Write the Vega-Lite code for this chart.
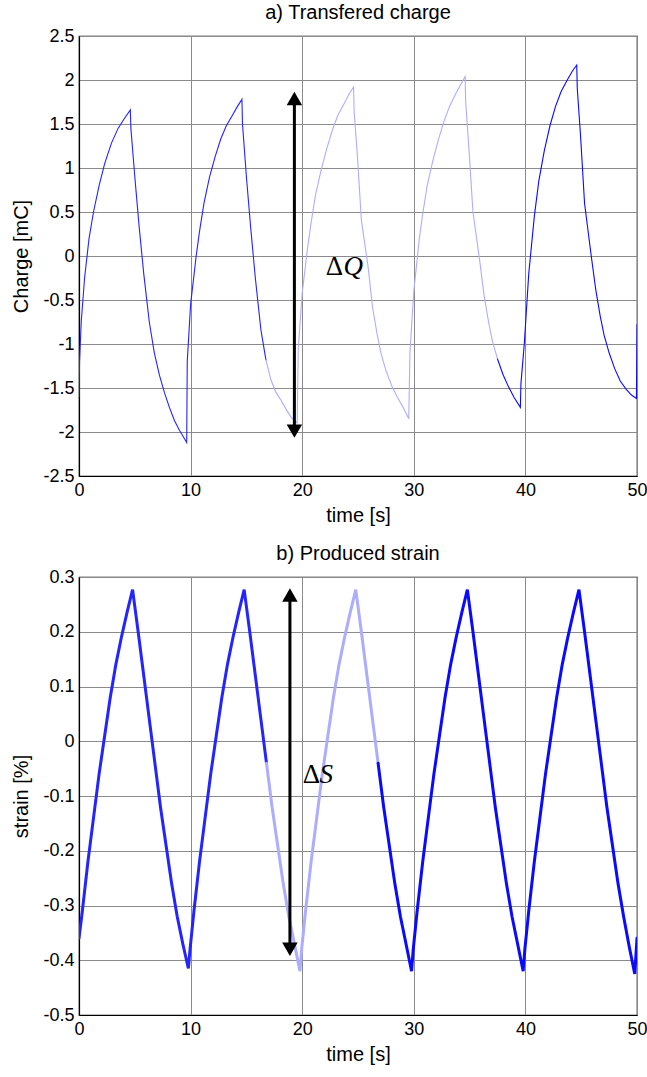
{
  "$schema": "https://vega.github.io/schema/vega-lite/v6.json",
  "padding": {"left": 11, "top": 2, "right": 8, "bottom": 4},
  "spacing": 17,
  "config": {
    "font": "Liberation Sans",
    "view": {"stroke": "black", "strokeWidth": 1.2},
    "axis": {
      "labelFont": "Liberation Sans", "labelFontSize": 18, "labelColor": "black", "labelPadding": 5,
      "titleFont": "Liberation Sans", "titleFontSize": 20, "titleFontWeight": "normal", "titleColor": "black",
      "gridColor": "#8a8a8a", "gridWidth": 1, "gridOpacity": 1,
      "domainColor": "black", "domainWidth": 1.2, "tickSize": 0, "labelFlush": false, "labelOverlap": false
    },
    "axisX": {"titlePadding": 6},
    "axisY": {"titlePadding": 11},
    "title": {"font": "Liberation Sans", "fontSize": 20, "fontWeight": "normal", "color": "black", "offset": 4}
  },
  "datasets": {
    "charge": [
      {"t": 0, "v": -1.6, "part": "main"}, {"t": 0.05, "v": -1.2, "part": "main"}, {"t": 0.2, "v": -0.75, "part": "main"},
      {"t": 0.5, "v": -0.25, "part": "main"}, {"t": 0.9, "v": 0.2, "part": "main"}, {"t": 1.3, "v": 0.5, "part": "main"},
      {"t": 1.8, "v": 0.8, "part": "main"}, {"t": 2.3, "v": 1.05, "part": "main"}, {"t": 2.9, "v": 1.28, "part": "main"},
      {"t": 3.5, "v": 1.45, "part": "main"}, {"t": 4.05, "v": 1.56, "part": "main"}, {"t": 4.6, "v": 1.66, "part": "main"},
      {"t": 4.65, "v": 1.45, "part": "main"}, {"t": 5.0, "v": 0.9, "part": "main"}, {"t": 5.4, "v": 0.32, "part": "main"},
      {"t": 5.8, "v": -0.2, "part": "main"}, {"t": 6.3, "v": -0.75, "part": "main"}, {"t": 6.75, "v": -1.1, "part": "main"},
      {"t": 7.2, "v": -1.35, "part": "main"}, {"t": 7.65, "v": -1.55, "part": "main"}, {"t": 8.1, "v": -1.72, "part": "main"},
      {"t": 8.55, "v": -1.87, "part": "main"}, {"t": 9.0, "v": -1.98, "part": "main"}, {"t": 9.65, "v": -2.12, "part": "main"},
      {"t": 9.7, "v": -1.2, "part": "main"}, {"t": 10.0, "v": -0.55, "part": "main"}, {"t": 10.5, "v": 0.0, "part": "main"},
      {"t": 10.8, "v": 0.28, "part": "main"}, {"t": 11.2, "v": 0.6, "part": "main"}, {"t": 11.7, "v": 0.9, "part": "main"},
      {"t": 12.2, "v": 1.13, "part": "main"}, {"t": 12.7, "v": 1.33, "part": "main"}, {"t": 13.2, "v": 1.48, "part": "main"},
      {"t": 13.75, "v": 1.6, "part": "main"}, {"t": 14.2, "v": 1.7, "part": "main"}, {"t": 14.6, "v": 1.78, "part": "main"},
      {"t": 14.65, "v": 1.5, "part": "main"}, {"t": 15.0, "v": 0.9, "part": "main"}, {"t": 15.4, "v": 0.3, "part": "main"},
      {"t": 15.8, "v": -0.25, "part": "main"}, {"t": 16.3, "v": -0.84, "part": "main"}, {"t": 16.75, "v": -1.18, "part": "main"},
      {"t": 16.75, "v": -1.18, "part": "faint"}, {"t": 17.2, "v": -1.41, "part": "faint"}, {"t": 17.65, "v": -1.55, "part": "faint"},
      {"t": 18.1, "v": -1.64, "part": "faint"}, {"t": 18.55, "v": -1.74, "part": "faint"}, {"t": 19.0, "v": -1.83, "part": "faint"},
      {"t": 19.55, "v": -1.9, "part": "faint"}, {"t": 19.65, "v": -1.05, "part": "faint"}, {"t": 20.0, "v": -0.42, "part": "faint"},
      {"t": 20.5, "v": 0.11, "part": "faint"}, {"t": 20.8, "v": 0.38, "part": "faint"}, {"t": 21.2, "v": 0.7, "part": "faint"},
      {"t": 21.7, "v": 0.98, "part": "faint"}, {"t": 22.2, "v": 1.22, "part": "faint"}, {"t": 22.7, "v": 1.43, "part": "faint"},
      {"t": 23.2, "v": 1.6, "part": "faint"}, {"t": 23.75, "v": 1.73, "part": "faint"}, {"t": 24.2, "v": 1.84, "part": "faint"},
      {"t": 24.6, "v": 1.92, "part": "faint"}, {"t": 24.65, "v": 1.65, "part": "faint"}, {"t": 24.95, "v": 1.13, "part": "faint"},
      {"t": 25.3, "v": 0.41, "part": "faint"}, {"t": 25.9, "v": -0.12, "part": "faint"}, {"t": 26.3, "v": -0.58, "part": "faint"},
      {"t": 26.7, "v": -0.88, "part": "faint"}, {"t": 27.05, "v": -1.1, "part": "faint"}, {"t": 27.5, "v": -1.3, "part": "faint"},
      {"t": 28.0, "v": -1.47, "part": "faint"}, {"t": 28.5, "v": -1.6, "part": "faint"}, {"t": 29.0, "v": -1.71, "part": "faint"},
      {"t": 29.55, "v": -1.85, "part": "faint"}, {"t": 29.65, "v": -1.1, "part": "faint"}, {"t": 30.0, "v": -0.4, "part": "faint"},
      {"t": 30.5, "v": 0.2, "part": "faint"}, {"t": 30.8, "v": 0.48, "part": "faint"}, {"t": 31.2, "v": 0.8, "part": "faint"},
      {"t": 31.7, "v": 1.08, "part": "faint"}, {"t": 32.2, "v": 1.32, "part": "faint"}, {"t": 32.7, "v": 1.53, "part": "faint"},
      {"t": 33.2, "v": 1.7, "part": "faint"}, {"t": 33.75, "v": 1.84, "part": "faint"}, {"t": 34.2, "v": 1.95, "part": "faint"},
      {"t": 34.6, "v": 2.04, "part": "faint"}, {"t": 34.65, "v": 1.75, "part": "faint"}, {"t": 34.95, "v": 1.2, "part": "faint"},
      {"t": 35.3, "v": 0.5, "part": "faint"}, {"t": 35.9, "v": -0.05, "part": "faint"}, {"t": 36.3, "v": -0.45, "part": "faint"},
      {"t": 36.7, "v": -0.75, "part": "faint"}, {"t": 37.05, "v": -0.97, "part": "faint"}, {"t": 37.5, "v": -1.17, "part": "faint"},
      {"t": 37.5, "v": -1.17, "part": "end"}, {"t": 38.0, "v": -1.35, "part": "end"}, {"t": 38.5, "v": -1.49, "part": "end"},
      {"t": 39.0, "v": -1.61, "part": "end"}, {"t": 39.55, "v": -1.72, "part": "end"}, {"t": 39.6, "v": -1.45, "part": "end"},
      {"t": 39.9, "v": -1.0, "part": "end"}, {"t": 40.3, "v": -0.2, "part": "end"}, {"t": 40.8, "v": 0.45, "part": "end"},
      {"t": 41.2, "v": 0.85, "part": "end"}, {"t": 41.7, "v": 1.2, "part": "end"}, {"t": 42.2, "v": 1.48, "part": "end"},
      {"t": 42.7, "v": 1.7, "part": "end"}, {"t": 43.2, "v": 1.87, "part": "end"}, {"t": 43.75, "v": 2.0, "part": "end"},
      {"t": 44.2, "v": 2.1, "part": "end"}, {"t": 44.6, "v": 2.17, "part": "end"}, {"t": 44.65, "v": 1.9, "part": "end"},
      {"t": 44.95, "v": 1.35, "part": "end"}, {"t": 45.3, "v": 0.6, "part": "end"}, {"t": 45.9, "v": 0.0, "part": "end"},
      {"t": 46.3, "v": -0.38, "part": "end"}, {"t": 46.7, "v": -0.68, "part": "end"}, {"t": 47.05, "v": -0.9, "part": "end"},
      {"t": 47.5, "v": -1.1, "part": "end"}, {"t": 48.0, "v": -1.28, "part": "end"}, {"t": 48.5, "v": -1.42, "part": "end"},
      {"t": 49.0, "v": -1.51, "part": "end"}, {"t": 49.5, "v": -1.58, "part": "end"}, {"t": 49.95, "v": -1.62, "part": "end"},
      {"t": 50.0, "v": -0.78, "part": "end"}
    ],
    "strain": [
      {"t": 0, "v": -0.36, "part": "main"}, {"t": 0.3, "v": -0.31, "part": "main"}, {"t": 0.8, "v": -0.22, "part": "main"},
      {"t": 1.3, "v": -0.14, "part": "main"}, {"t": 1.8, "v": -0.06, "part": "main"}, {"t": 2.3, "v": 0.01, "part": "main"},
      {"t": 2.8, "v": 0.08, "part": "main"}, {"t": 3.3, "v": 0.14, "part": "main"}, {"t": 3.8, "v": 0.19, "part": "main"},
      {"t": 4.3, "v": 0.235, "part": "main"}, {"t": 4.8, "v": 0.277, "part": "main"}, {"t": 5.3, "v": 0.2, "part": "main"},
      {"t": 5.8, "v": 0.12, "part": "main"}, {"t": 6.3, "v": 0.04, "part": "main"}, {"t": 6.8, "v": -0.04, "part": "main"},
      {"t": 7.3, "v": -0.12, "part": "main"}, {"t": 7.8, "v": -0.19, "part": "main"}, {"t": 8.3, "v": -0.26, "part": "main"},
      {"t": 8.8, "v": -0.32, "part": "main"}, {"t": 9.3, "v": -0.37, "part": "main"}, {"t": 9.8, "v": -0.415, "part": "main"},
      {"t": 9.95, "v": -0.38, "part": "main"}, {"t": 10.3, "v": -0.31, "part": "main"}, {"t": 10.8, "v": -0.22, "part": "main"},
      {"t": 11.3, "v": -0.14, "part": "main"}, {"t": 11.8, "v": -0.06, "part": "main"}, {"t": 12.3, "v": 0.01, "part": "main"},
      {"t": 12.8, "v": 0.08, "part": "main"}, {"t": 13.3, "v": 0.14, "part": "main"}, {"t": 13.8, "v": 0.19, "part": "main"},
      {"t": 14.3, "v": 0.235, "part": "main"}, {"t": 14.8, "v": 0.277, "part": "main"}, {"t": 15.3, "v": 0.2, "part": "main"},
      {"t": 15.8, "v": 0.12, "part": "main"}, {"t": 16.3, "v": 0.04, "part": "main"}, {"t": 16.8, "v": -0.04, "part": "main"},
      {"t": 16.8, "v": -0.04, "part": "faint"}, {"t": 17.3, "v": -0.12, "part": "faint"}, {"t": 17.8, "v": -0.19, "part": "faint"},
      {"t": 18.3, "v": -0.26, "part": "faint"}, {"t": 18.8, "v": -0.32, "part": "faint"}, {"t": 19.3, "v": -0.37, "part": "faint"},
      {"t": 19.8, "v": -0.42, "part": "faint"}, {"t": 19.95, "v": -0.38, "part": "faint"}, {"t": 20.3, "v": -0.31, "part": "faint"},
      {"t": 20.8, "v": -0.22, "part": "faint"}, {"t": 21.3, "v": -0.14, "part": "faint"}, {"t": 21.8, "v": -0.06, "part": "faint"},
      {"t": 22.3, "v": 0.01, "part": "faint"}, {"t": 22.8, "v": 0.08, "part": "faint"}, {"t": 23.3, "v": 0.14, "part": "faint"},
      {"t": 23.8, "v": 0.19, "part": "faint"}, {"t": 24.3, "v": 0.235, "part": "faint"}, {"t": 24.8, "v": 0.277, "part": "faint"},
      {"t": 25.3, "v": 0.2, "part": "faint"}, {"t": 25.8, "v": 0.12, "part": "faint"}, {"t": 26.3, "v": 0.04, "part": "faint"},
      {"t": 26.8, "v": -0.04, "part": "faint"},
      {"t": 26.8, "v": -0.04, "part": "end"}, {"t": 27.3, "v": -0.12, "part": "end"}, {"t": 27.8, "v": -0.19, "part": "end"},
      {"t": 28.3, "v": -0.26, "part": "end"}, {"t": 28.8, "v": -0.32, "part": "end"}, {"t": 29.3, "v": -0.37, "part": "end"},
      {"t": 29.8, "v": -0.42, "part": "end"}, {"t": 29.95, "v": -0.38, "part": "end"}, {"t": 30.3, "v": -0.31, "part": "end"},
      {"t": 30.8, "v": -0.22, "part": "end"}, {"t": 31.3, "v": -0.14, "part": "end"}, {"t": 31.8, "v": -0.06, "part": "end"},
      {"t": 32.3, "v": 0.01, "part": "end"}, {"t": 32.8, "v": 0.08, "part": "end"}, {"t": 33.3, "v": 0.14, "part": "end"},
      {"t": 33.8, "v": 0.19, "part": "end"}, {"t": 34.3, "v": 0.235, "part": "end"}, {"t": 34.8, "v": 0.277, "part": "end"},
      {"t": 35.3, "v": 0.2, "part": "end"}, {"t": 35.8, "v": 0.12, "part": "end"}, {"t": 36.3, "v": 0.04, "part": "end"},
      {"t": 36.8, "v": -0.04, "part": "end"}, {"t": 37.3, "v": -0.12, "part": "end"}, {"t": 37.8, "v": -0.19, "part": "end"},
      {"t": 38.3, "v": -0.26, "part": "end"}, {"t": 38.8, "v": -0.32, "part": "end"}, {"t": 39.3, "v": -0.37, "part": "end"},
      {"t": 39.8, "v": -0.42, "part": "end"}, {"t": 39.95, "v": -0.38, "part": "end"}, {"t": 40.3, "v": -0.31, "part": "end"},
      {"t": 40.8, "v": -0.22, "part": "end"}, {"t": 41.3, "v": -0.14, "part": "end"}, {"t": 41.8, "v": -0.06, "part": "end"},
      {"t": 42.3, "v": 0.01, "part": "end"}, {"t": 42.8, "v": 0.08, "part": "end"}, {"t": 43.3, "v": 0.14, "part": "end"},
      {"t": 43.8, "v": 0.19, "part": "end"}, {"t": 44.3, "v": 0.235, "part": "end"}, {"t": 44.8, "v": 0.277, "part": "end"},
      {"t": 45.3, "v": 0.2, "part": "end"}, {"t": 45.8, "v": 0.12, "part": "end"}, {"t": 46.3, "v": 0.04, "part": "end"},
      {"t": 46.8, "v": -0.04, "part": "end"}, {"t": 47.3, "v": -0.12, "part": "end"}, {"t": 47.8, "v": -0.19, "part": "end"},
      {"t": 48.3, "v": -0.26, "part": "end"}, {"t": 48.8, "v": -0.32, "part": "end"}, {"t": 49.3, "v": -0.375, "part": "end"},
      {"t": 49.8, "v": -0.425, "part": "end"}, {"t": 50.0, "v": -0.36, "part": "end"}
    ],
    "arrowQ": [{"t": 19.3, "v": -1.99, "v2": 1.79}],
    "headsQ": [{"t": 19.3, "v": 1.79, "dir": "up"}, {"t": 19.3, "v": -1.99, "dir": "down"}],
    "arrowS": [{"t": 18.9, "v": -0.38, "v2": 0.267}],
    "headsS": [{"t": 18.9, "v": 0.267, "dir": "up"}, {"t": 18.9, "v": -0.38, "dir": "down"}],
    "deltaQ": [{"t": 22.1, "v": -0.13, "s": "Δ"}],
    "letterQ": [{"t": 23.7, "v": -0.13, "s": "Q"}],
    "deltaS": [{"t": 20.05, "v": -0.062, "s": "Δ"}],
    "letterS": [{"t": 21.55, "v": -0.062, "s": "S"}]
  },
  "vconcat": [
    {
      "title": "a) Transfered charge",
      "width": 558,
      "height": 440,
      "encoding": {
        "x": {"field": "t", "type": "quantitative", "scale": {"domain": [0, 50], "nice": false, "zero": false},
              "axis": {"values": [0, 10, 20, 30, 40, 50], "title": "time [s]"}},
        "y": {"field": "v", "type": "quantitative", "scale": {"domain": [-2.5, 2.5], "nice": false, "zero": false},
              "axis": {"values": [-2.5, -2, -1.5, -1, -0.5, 0, 0.5, 1, 1.5, 2, 2.5], "labelExpr": "'' + datum.value", "title": "Charge [mC]"}}
      },
      "layer": [
        {
          "data": {"name": "charge"},
          "mark": {"type": "line", "strokeWidth": 1.1, "strokeCap": "round", "clip": true},
          "encoding": {
            "color": {"field": "part", "type": "nominal", "scale": {"domain": ["main", "faint", "end"], "range": ["#2424ff", "#adadff", "#0a0aff"]}, "legend": null}
          }
        },
        {
          "data": {"name": "arrowQ"},
          "mark": {"type": "rule", "color": "black", "strokeWidth": 3},
          "encoding": {"y2": {"field": "v2"}}
        },
        {
          "data": {"name": "headsQ"},
          "mark": {"type": "point", "filled": true, "color": "black", "size": 240, "opacity": 1},
          "encoding": {"shape": {"field": "dir", "type": "nominal", "scale": {"domain": ["up", "down"], "range": ["triangle-up", "triangle-down"]}, "legend": null}}
        },
        {
          "data": {"name": "deltaQ"},
          "mark": {"type": "text", "font": "Liberation Serif", "fontSize": 27, "align": "left", "baseline": "middle", "color": "black"},
          "encoding": {"text": {"field": "s"}}
        },
        {
          "data": {"name": "letterQ"},
          "mark": {"type": "text", "font": "Liberation Serif", "fontSize": 27, "fontStyle": "italic", "align": "left", "baseline": "middle", "color": "black"},
          "encoding": {"text": {"field": "s"}}
        }
      ]
    },
    {
      "title": "b) Produced strain",
      "width": 558,
      "height": 438,
      "encoding": {
        "x": {"field": "t", "type": "quantitative", "scale": {"domain": [0, 50], "nice": false, "zero": false},
              "axis": {"values": [0, 10, 20, 30, 40, 50], "title": "time [s]"}},
        "y": {"field": "v", "type": "quantitative", "scale": {"domain": [-0.5, 0.3], "nice": false, "zero": false},
              "axis": {"values": [-0.5, -0.4, -0.3, -0.2, -0.1, 0, 0.1, 0.2, 0.3], "labelExpr": "'' + datum.value", "title": "strain [%]"}}
      },
      "layer": [
        {
          "data": {"name": "strain"},
          "mark": {"type": "line", "strokeWidth": 3, "strokeCap": "round", "clip": true},
          "encoding": {
            "color": {"field": "part", "type": "nominal", "scale": {"domain": ["main", "faint", "end"], "range": ["#0000ff", "#7a7aff", "#0000ff"]}, "legend": null}
          }
        },
        {
          "data": {"name": "arrowS"},
          "mark": {"type": "rule", "color": "black", "strokeWidth": 3},
          "encoding": {"y2": {"field": "v2"}}
        },
        {
          "data": {"name": "headsS"},
          "mark": {"type": "point", "filled": true, "color": "black", "size": 240, "opacity": 1},
          "encoding": {"shape": {"field": "dir", "type": "nominal", "scale": {"domain": ["up", "down"], "range": ["triangle-up", "triangle-down"]}, "legend": null}}
        },
        {
          "data": {"name": "deltaS"},
          "mark": {"type": "text", "font": "Liberation Serif", "fontSize": 27, "align": "left", "baseline": "middle", "color": "black"},
          "encoding": {"text": {"field": "s"}}
        },
        {
          "data": {"name": "letterS"},
          "mark": {"type": "text", "font": "Liberation Serif", "fontSize": 27, "fontStyle": "italic", "align": "left", "baseline": "middle", "color": "black"},
          "encoding": {"text": {"field": "s"}}
        }
      ]
    }
  ]
}
